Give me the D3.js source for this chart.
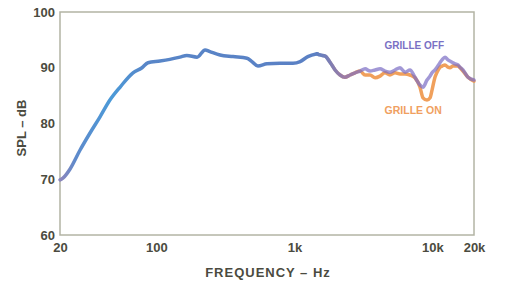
<!DOCTYPE html>
<html>
<head>
<meta charset="utf-8">
<script src="https://cdn.jsdelivr.net/npm/d3@7"></script>
<style>
  body { margin: 0; background: #fff; }
  text { font-family: "Liberation Sans", Arial, sans-serif; font-weight: bold; }
</style>
</head>
<body>
<script>
// shared part of the response (both curves identical below ~1.5k)
const freqShared = [20, 21, 23.6, 27.9, 33, 39, 46, 54.4, 67.6, 78.6, 86.8, 106, 125, 148, 166, 197, 225, 244, 289, 359, 453, 492, 544, 632, 786, 976, 1100, 1250, 1460];
const dbShared = [69.9, 70.2, 71.8, 75.2, 78.3, 81.2, 84.2, 86.5, 89.1, 90.0, 90.9, 91.2, 91.5, 91.9, 92.2, 91.9, 93.2, 92.9, 92.3, 92.0, 91.7, 91.1, 90.3, 90.7, 90.8, 90.8, 91.1, 92.0, 92.5];

// upper part, grille off / grille on
const freqHigh = [1460, 1530, 1670, 1810, 1970, 2140, 2320, 2530, 2750, 2990, 3250, 3530, 3840, 4170, 4530, 4920, 5350, 5820, 6330, 6870, 7470, 8120, 8540, 9130, 9600, 9930, 10430, 10790, 11340, 11730, 12330, 12960, 13400, 14090, 14570, 15320, 15840, 16650, 18100, 20000];
const dbOff = [92.5, 92.3, 92.1, 91.0, 89.6, 88.7, 88.3, 88.7, 89.1, 89.4, 89.8, 89.4, 89.6, 89.8, 89.4, 89.2, 89.6, 90.0, 89.2, 89.6, 88.3, 86.9, 86.5, 87.8, 88.5, 89.1, 89.6, 90.1, 90.9, 91.4, 91.9, 91.4, 91.2, 90.9, 90.7, 90.5, 90.1, 89.6, 88.3, 87.8];
const dbOn = [92.5, 92.3, 92.1, 91.0, 89.6, 88.7, 88.3, 88.7, 89.1, 89.4, 88.7, 88.7, 88.2, 88.5, 89.1, 88.7, 89.1, 88.9, 88.9, 88.7, 88.2, 86.5, 84.6, 84.2, 84.6, 86.0, 88.3, 89.2, 90.1, 90.3, 90.5, 90.1, 90.0, 90.3, 90.3, 90.3, 90.0, 89.4, 88.3, 87.6];

const xTicks = [20, 100, 1000, 10000, 20000];
const xTickLabels = ["20", "100", "1k", "10k", "20k"];
const yTicks = [60, 70, 80, 90, 100];

// annotation anchors (freq, dB)
const labelOff = {text: "GRILLE OFF", f: 4500, db: 94.0};
const labelOn = {text: "GRILLE ON", f: 4500, db: 82.5};

let width = 505,
    height = 282;

let svg = d3.select("body").append("svg")
    .attr("width", width)
    .attr("height", height);

let x = d3.scaleLog().domain([20, 20000]).range([60, 474]);
let y = d3.scaleLinear().domain([60, 100]).range([235, 12]);

let defs = svg.append("defs");

        //colour drift along the low part of the trace
let gShared = defs.append("linearGradient")
    .attr("id", "gShared")
    .attr("gradientUnits", "userSpaceOnUse")
    .attr("x1", x(20)).attr("x2", x(1460))
    .attr("y1", 0).attr("y2", 0);
[[0, "#8d86bb"], [0.06, "#5f8acb"], [0.2, "#4b9ad8"], [0.33, "#5886c8"], [1, "#5b80c4"]]
    .forEach(s => gShared.append("stop").attr("offset", s[0]).attr("stop-color", s[1]));

function fadeGrad(id, color) {
    let g = defs.append("linearGradient")
        .attr("id", id)
        .attr("gradientUnits", "userSpaceOnUse")
        .attr("x1", x(1400)).attr("x2", x(2300))
        .attr("y1", 0).attr("y2", 0);
    g.append("stop").attr("offset", 0).attr("stop-color", "#5b80c4");
    g.append("stop").attr("offset", 1).attr("stop-color", color);
}
fadeGrad("gOff", "#7a6cc4");
fadeGrad("gOn", "#f0a05c");

        //frame
svg.append("rect")
    .attr("x", x(20)).attr("y", y(100))
    .attr("width", x(20000) - x(20))
    .attr("height", y(60) - y(100))
    .attr("fill", "none")
    .attr("stroke", "#b3b4a4")
    .attr("stroke-width", 1.5);

        //tick labels
svg.append("g")
    .attr("transform", `translate(${x(20)},0)`)
    .call(d3.axisLeft(y).tickValues(yTicks).tickSize(0).tickPadding(5))
    .call(g => g.select(".domain").remove())
    .selectAll("text")
    .attr("font-size", 13)
    .attr("font-family", null)
    .attr("fill", "#4b4b40");

svg.append("g")
    .attr("transform", `translate(0,${y(60)})`)
    .call(d3.axisBottom(x).tickValues(xTicks)
        .tickFormat((d, i) => xTickLabels[i]).tickSize(0).tickPadding(8))
    .call(g => g.select(".domain").remove())
    .selectAll("text")
    .attr("font-size", 13)
    .attr("font-family", null)
    .attr("fill", "#4b4b40");

        //axis titles
svg.append("text")
    .attr("x", 268).attr("y", 277)
    .attr("text-anchor", "middle")
    .attr("font-size", 13)
    .attr("letter-spacing", 1)
    .attr("fill", "#4b4b40")
    .text("FREQUENCY – Hz");

svg.append("text")
    .attr("transform", "translate(26,128) rotate(-90)")
    .attr("text-anchor", "middle")
    .attr("font-size", 13)
    .attr("fill", "#4b4b40")
    .text("SPL – dB");

        //curves
let line = d3.line()
    .x(d => x(d[0]))
    .y(d => y(d[1]))
    .curve(d3.curveMonotoneX);

svg.append("path")
    .datum(freqShared.map((f, i) => [f, dbShared[i]]))
    .attr("d", line)
    .attr("fill", "none")
    .attr("stroke", "url(#gShared)")
    .attr("stroke-width", 3.5)
    .attr("stroke-linecap", "round")
    .attr("stroke-linejoin", "round");

svg.append("path")
    .datum(freqHigh.map((f, i) => [f, dbOn[i]]))
    .attr("d", line)
    .attr("fill", "none")
    .attr("stroke", "url(#gOn)")
    .attr("stroke-width", 3.5)
    .attr("stroke-linecap", "round")
    .attr("stroke-linejoin", "round");

svg.append("path")
    .datum(freqHigh.map((f, i) => [f, dbOff[i]]))
    .attr("d", line)
    .attr("fill", "none")
    .attr("stroke", "url(#gOff)")
    .attr("stroke-opacity", 0.7)
    .attr("stroke-width", 3.5)
    .attr("stroke-linecap", "round")
    .attr("stroke-linejoin", "round");

        //annotations
svg.append("text")
    .attr("x", x(labelOff.f)).attr("y", y(labelOff.db))
    .attr("dominant-baseline", "central")
    .attr("font-size", 10)
    .attr("fill", "#7a70c4")
    .text(labelOff.text);

svg.append("text")
    .attr("x", x(labelOn.f)).attr("y", y(labelOn.db))
    .attr("dominant-baseline", "central")
    .attr("font-size", 10.5)
    .attr("fill", "#f0a060")
    .text(labelOn.text);
</script>
</body>
</html>
